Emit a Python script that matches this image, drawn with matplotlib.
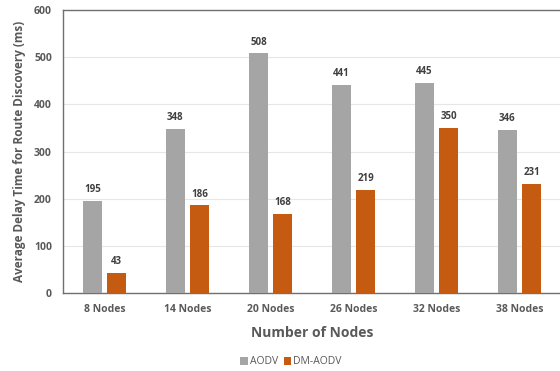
import matplotlib
matplotlib.use("Agg")
import matplotlib.pyplot as plt
import numpy as np

categories = ["8 Nodes", "14 Nodes", "20 Nodes", "26 Nodes", "32 Nodes", "38 Nodes"]
aodv = [195, 348, 508, 441, 445, 346]
dm_aodv = [43, 186, 168, 219, 350, 231]
y_ticks = [0, 100, 200, 300, 400, 500, 600]

GRAY = "#A5A5A5"
ORANGE = "#C55A11"
TEXT = "#595959"

plt.rcParams["font.family"] = ["Open Sans", "DejaVu Sans"]

fig = plt.figure(figsize=(5.6, 3.71), dpi=100)
ax = fig.add_axes([63 / 560, 1 - 293 / 371, 498 / 560, 283 / 371])

x = np.arange(len(categories))
w = 0.23
off = 0.145
b1 = ax.bar(x - off, aodv, w, color=GRAY, label="AODV", zorder=3)
b2 = ax.bar(x + off, dm_aodv, w, color=ORANGE, label="DM-AODV", zorder=3)

# value labels above each bar
for bars, vals in ((b1, aodv), (b2, dm_aodv)):
    for rect, v in zip(bars, vals):
        ax.text(rect.get_x() + rect.get_width() / 2, v + 12, str(v),
                ha="center", va="bottom", fontsize=7, fontweight="bold", color="#404040")

ax.set_xlim(-0.5, len(categories) - 0.5)
ax.set_ylim(0, 600)
ax.set_yticks(y_ticks)
ax.set_xticks(x)
ax.set_xticklabels(categories)
ax.tick_params(axis="both", length=0, labelsize=7.5, colors=TEXT, pad=8)
for lbl in ax.get_xticklabels() + ax.get_yticklabels():
    lbl.set_fontweight("bold")

ax.grid(axis="y", color="#E6E6E6", linewidth=0.8, zorder=0)
for side in ("top", "left", "bottom", "right"):
    ax.spines[side].set_color("#707070")
    ax.spines[side].set_linewidth(1.0)

ax.set_xlabel("Number of Nodes", fontsize=10, fontweight="bold", color=TEXT, labelpad=8)
ax.set_ylabel("Average Delay Time for Route Discovery (ms)", fontsize=8.5,
              fontweight="bold", color=TEXT, labelpad=6)

fig.legend(handles=[b1, b2], loc="center", bbox_to_anchor=(291 / 560, 1 - 362 / 371),
           ncol=2, frameon=False, fontsize=7.5, handlelength=0.7, handleheight=0.7,
           handletextpad=0.2, columnspacing=0.6, labelcolor=TEXT)

fig.savefig("out.png", dpi=100)
